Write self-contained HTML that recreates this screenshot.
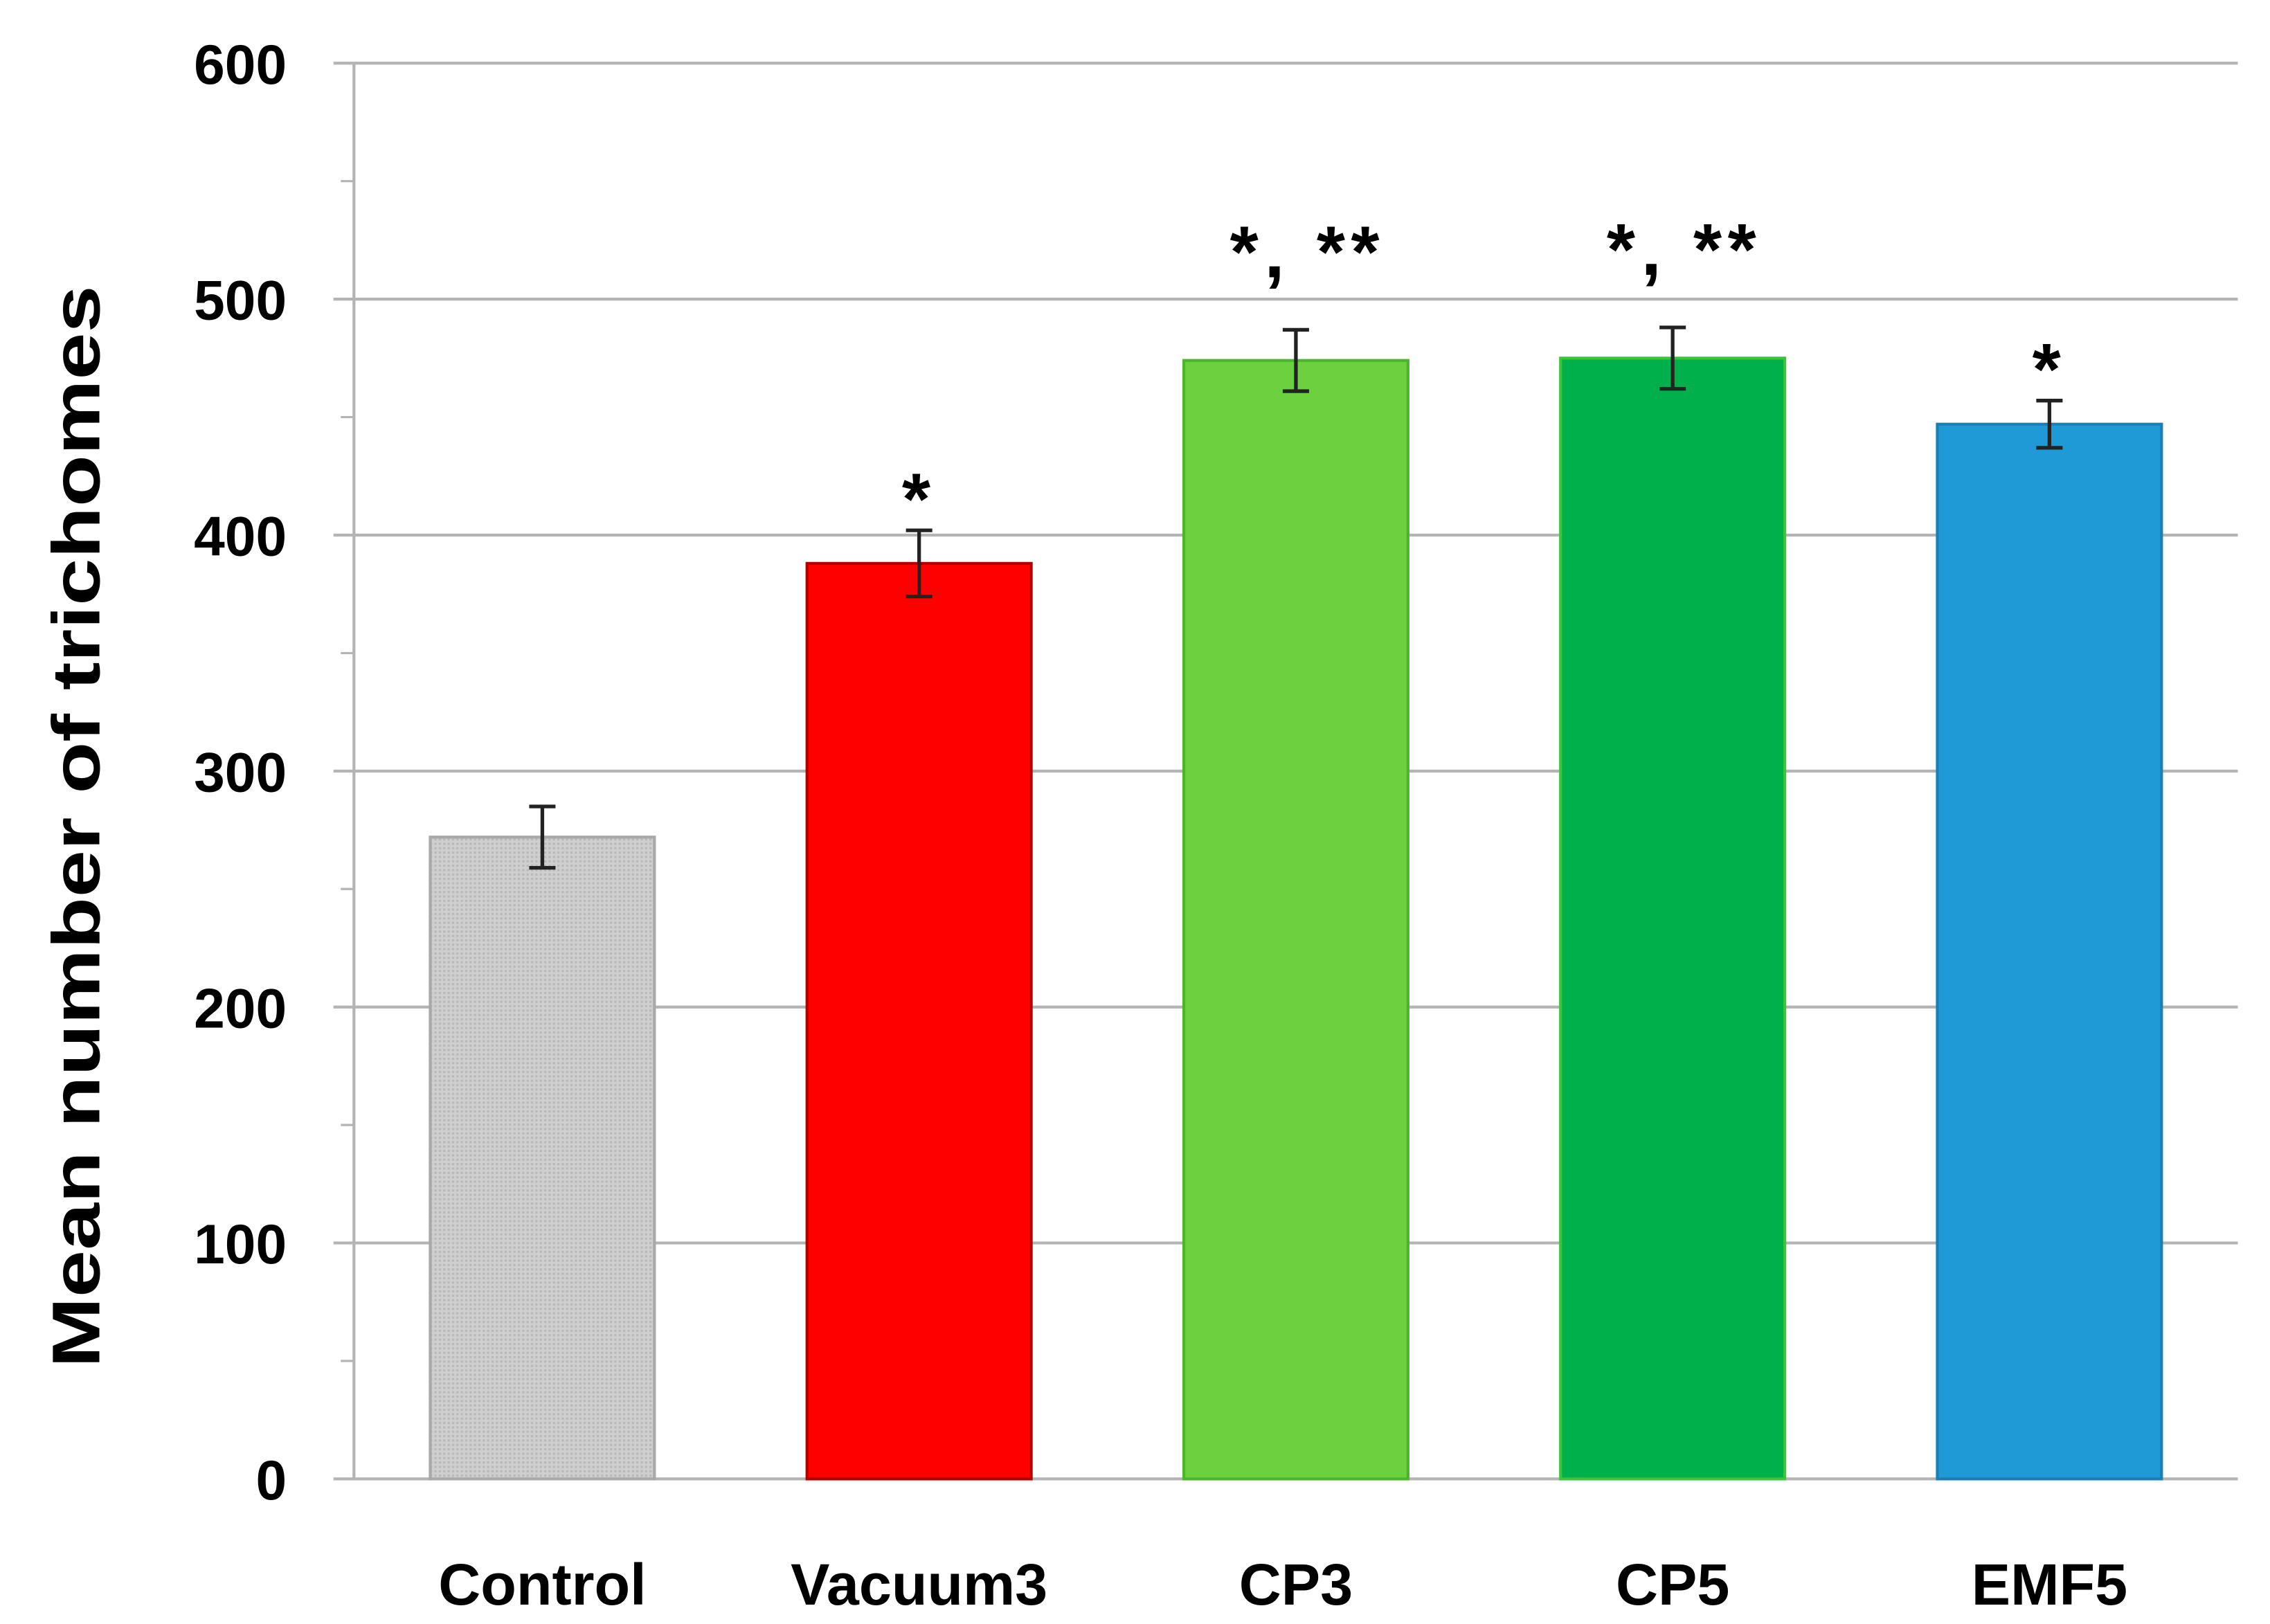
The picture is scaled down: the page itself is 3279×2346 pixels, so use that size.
<!DOCTYPE html>
<html><head><meta charset="utf-8"><style>
html,body{margin:0;padding:0;background:#fff;}
svg{display:block;}
text{font-family:"Liberation Sans",Arial,sans-serif;font-weight:bold;fill:#000;}
</style></head><body>
<svg id="chart" width="3279" height="2346" viewBox="0 0 1552 1110" xmlns="http://www.w3.org/2000/svg">
<defs>
<pattern id="dots" width="3" height="3" patternUnits="userSpaceOnUse">
<rect width="3" height="3" fill="#cfcfcf"/><rect width="1.5" height="1.5" fill="#b8b8b8"/>
</pattern>
</defs>
<g id="grid"></g>
<g id="axes"></g>
<g id="bars"></g>
<g id="labels"></g>
<text transform="translate(68,565) rotate(-90)" text-anchor="middle" font-size="46" textLength="740" lengthAdjust="spacingAndGlyphs">Mean number of trichomes</text>
</svg>
<script>
const categories = ["Control","Vacuum3","CP3","CP5","EMF5"];
const values = [272, 388, 474, 475, 447];
const errors = [13, 14, 13, 13, 10];
const annotations = ["", "*", "*, **", "*, **", "*"];
const yTicks = [0,100,200,300,400,500,600];
const fills = ["url(#dots)","#ff0000","#6dd13f","#00b04a","#1f9ad6"];
const strokes = ["#a8a8a8","#b00000","#4cb52e","#3cc43c","#1a7fb5"];

const NS="http://www.w3.org/2000/svg";
const x0=242, x1=1530, yTop=43, yBot=1011, yMax=600;
const band=(x1-x0)/categories.length;
const y=v=>yBot-(v/yMax)*(yBot-yTop);
const xc=i=>x0+band*(i+0.5);
function mk(tag,attrs,parent,txt){const e=document.createElementNS(NS,tag);for(const k in attrs)e.setAttribute(k,attrs[k]);if(txt!==undefined)e.textContent=txt;parent.appendChild(e);return e;}
const grid=document.getElementById('grid'),axes=document.getElementById('axes'),bars=document.getElementById('bars'),labels=document.getElementById('labels');

yTicks.forEach(t=>{
  const l=mk('line',{x1:228,x2:x1,y1:y(t),y2:y(t),stroke:'#b4b4b4','stroke-width':2},grid);
  
  
  const tx=mk('text',{x:196,y:y(t)+14,'text-anchor':'end','font-size':38},labels,String(t));
  
  
});
for(let i=0;i<yTicks.length-1;i++){
  const v=(yTicks[i]+yTicks[i+1])/2;
  const m=mk('line',{x1:233,x2:x0,y1:y(v),y2:y(v),stroke:'#b4b4b4','stroke-width':1.5},axes);
  
  
}
const ax=mk('line',{x1:x0,x2:x0,y1:yTop,y2:yBot,stroke:'#b4b4b4','stroke-width':2},axes);



const bw=band*0.595;
categories.forEach((c,i)=>{
  const cx=xc(i);
  const r=mk('rect',{x:cx-bw/2,y:y(values[i]),width:bw,height:yBot-y(values[i]),fill:fills[i],stroke:strokes[i],'stroke-width':2},bars);
  
  
  const g=mk('g',{stroke:'#222','stroke-width':2.5},bars);
  
  
  const hi=y(values[i]+errors[i]),lo=y(values[i]-errors[i]);
  mk('line',{x1:cx,x2:cx,y1:hi,y2:lo},g);
  mk('line',{x1:cx-9,x2:cx+9,y1:hi,y2:hi},g);
  mk('line',{x1:cx-9,x2:cx+9,y1:lo,y2:lo},g);
  const cl=mk('text',{x:cx,y:1097,'text-anchor':'middle','font-size':40},labels,c);
  
  
  if(annotations[i]){
    const multi=annotations[i].length>1;
    const a=mk('text',{x:cx+(multi?8:0),y:hi-(multi?36:4),'text-anchor':'middle','font-size':50,'letter-spacing':4},labels,annotations[i]);
    
    
  }
});
</script>
</body></html>
